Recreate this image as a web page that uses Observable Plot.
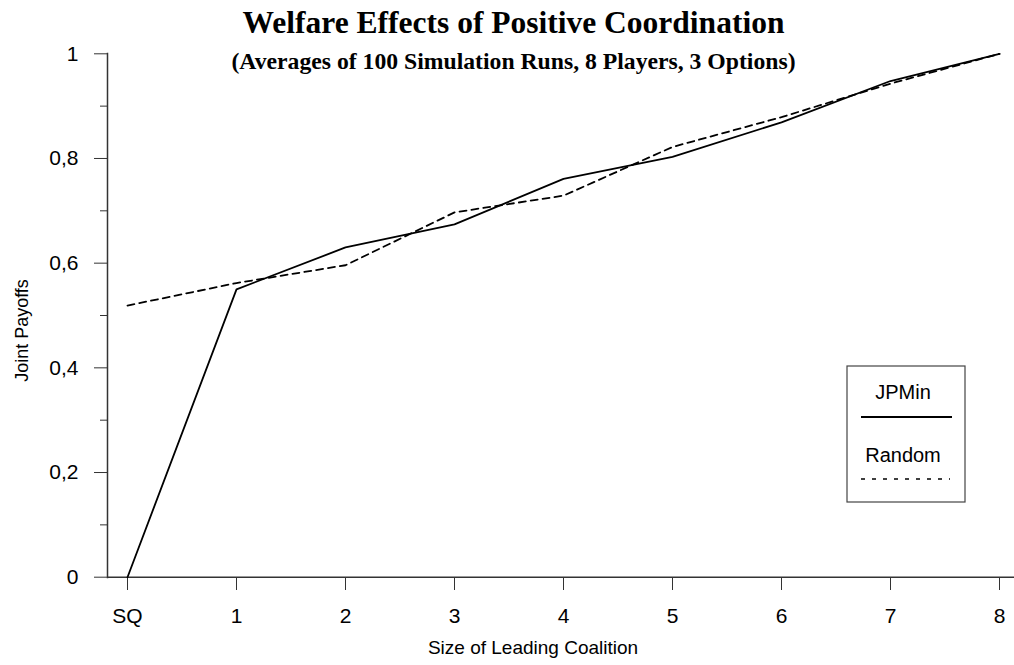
<!DOCTYPE html>
<html>
<head>
<meta charset="utf-8">
<script src="https://cdn.jsdelivr.net/npm/d3@7"></script>
<script src="https://cdn.jsdelivr.net/npm/@observablehq/plot@0.6"></script>
<style>
  html, body { margin: 0; padding: 0; background: #fff; }
  #wrap { position: relative; width: 1014px; height: 665px; overflow: hidden; }
  .ttl { position: absolute; left: 0; width: 1027px; text-align: center; white-space: nowrap;
         font-family: "Liberation Serif", "Times New Roman", serif; font-weight: bold; color: #000; line-height: 1; }
  #title { top: 7px; font-size: 31.5px; }
  #subtitle { top: 50px; font-size: 23.7px; }
  #legend { position: absolute; left: 0; top: 0; pointer-events: none; }
</style>
</head>
<body>
<div id="wrap">
  <div id="chart"></div>
  <div id="title" class="ttl">Welfare Effects of Positive Coordination</div>
  <div id="subtitle" class="ttl">(Averages of 100 Simulation Runs, 8 Players, 3 Options)</div>
  <svg id="legend" width="1014" height="665"></svg>
</div>
<script>
// ---- data ----
const categories = ["SQ", "1", "2", "3", "4", "5", "6", "7", "8"];
const jpmin  = [0,     0.550, 0.630, 0.674, 0.761, 0.803, 0.869, 0.948, 1.0];
const random = [0.519, 0.562, 0.596, 0.697, 0.729, 0.822, 0.879, 0.943, 1.0];
const seriesNames = ["JPMin", "Random"];
const yTicks = [0, 0.2, 0.4, 0.6, 0.8, 1];
const yMinorTicks = [0.1, 0.3, 0.5, 0.7, 0.9];
const xTitle = "Size of Leading Coalition";
const yTitle = "Joint Payoffs";

const jpRows = categories.map((c, i) => ({cat: c, value: jpmin[i], series: seriesNames[0]}));
const rdRows = categories.map((c, i) => ({cat: c, value: random[i], series: seriesNames[1]}));

const axisColor = "#333";
const fmt = d => String(d).replace(".", ",");

const chart = Plot.plot({
  width: 1014,
  height: 665,
  marginLeft: 107,
  marginRight: 0,
  marginTop: 53,
  marginBottom: 88,
  style: { fontFamily: '"Liberation Sans", Arial, sans-serif', fontSize: "21px", color: "#000", background: "#fff" },
  x: { type: "point", domain: categories, range: [125.7, 1001], padding: 0 },
  y: { domain: [0, 1], range: [576.7, 53.3] },
  marks: [
    Plot.axisY(yMinorTicks, { tickSize: 7, tickFormat: () => "", label: null, stroke: axisColor }),
    Plot.axisY(yTicks, { tickSize: 13, tickPadding: 16, tickFormat: fmt, label: null, stroke: axisColor, fill: "#000" }),
    Plot.axisX(categories, { tickSize: 13, tickPadding: 18, label: null, stroke: axisColor, fill: "#000" }),
    Plot.frame({ anchor: "left", stroke: axisColor, strokeWidth: 1.5 }),
    Plot.ruleY([0], { stroke: axisColor, strokeWidth: 1.5 }),
    Plot.text([yTitle], { frameAnchor: "left", textAnchor: "middle", dx: -85, dy: 15, rotate: -90, fontSize: 18, fill: "#000" }),
    Plot.text([xTitle], { frameAnchor: "bottom", textAnchor: "middle", dx: -28, dy: 76, fontSize: 19, fill: "#000" }),
    Plot.line(rdRows, { x: "cat", y: "value", stroke: "#000", strokeWidth: 1.8, strokeDasharray: "7,5" }),
    Plot.line(jpRows, { x: "cat", y: "value", stroke: "#000", strokeWidth: 1.8 })
  ]
});
document.getElementById("chart").appendChild(chart);

// ---- legend ----
const lg = d3.select("#legend");
lg.append("rect").attr("x", 847).attr("y", 366).attr("width", 118).attr("height", 136)
  .attr("fill", "#fff").attr("stroke", "#444").attr("stroke-width", 1.2);
lg.append("text").attr("x", 903).attr("y", 392).attr("text-anchor", "middle").attr("dominant-baseline", "central")
  .style("font", '20px "Liberation Sans", Arial, sans-serif').text(seriesNames[0]);
lg.append("line").attr("x1", 861).attr("x2", 952).attr("y1", 417).attr("y2", 417)
  .attr("stroke", "#000").attr("stroke-width", 1.8);
lg.append("text").attr("x", 903).attr("y", 455).attr("text-anchor", "middle").attr("dominant-baseline", "central")
  .style("font", '20px "Liberation Sans", Arial, sans-serif').text(seriesNames[1]);
lg.append("line").attr("x1", 861).attr("x2", 950).attr("y1", 479).attr("y2", 479)
  .attr("stroke", "#000").attr("stroke-width", 1.3).attr("stroke-dasharray", "4,7");
</script>
</body>
</html>
